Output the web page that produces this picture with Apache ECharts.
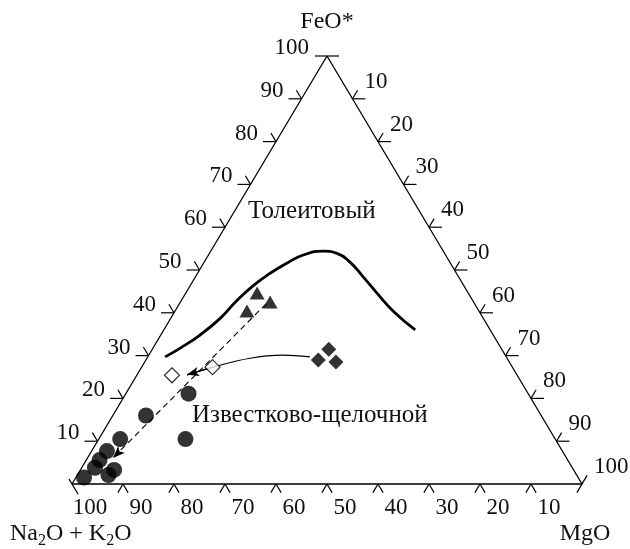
<!DOCTYPE html>
<html><head><meta charset="utf-8">
<script src="https://cdn.jsdelivr.net/npm/echarts@6/dist/echarts.min.js"></script>
<style>html,body{margin:0;padding:0;background:#fff}#c{width:630px;height:549px}</style>
</head><body><div id="c"></div>
<script>
// Ternary AFM diagram values (percent). Na2O+K2O = 100 - FeO* - MgO
const tickValues = [10, 20, 30, 40, 50, 60, 70, 80, 90];
const labelValues = [10, 20, 30, 40, 50, 60, 70, 80, 90, 100];

const boundaryFeO = [29.7, 31.7, 34.8, 38.7, 42.8, 46.4, 49.2, 51.6, 53.5, 54.4, 53.9, 51.9, 48.4, 44.6, 40.3, 36.0];
const boundaryMgO = [3.4, 5.3, 7.7, 9.7, 10.9, 12.4, 14.2, 16.3, 18.6, 22.0, 25.0, 28.5, 32.9, 37.5, 42.9, 49.3];

const circleFeO = [21.1, 16.0, 10.5, 10.5, 7.7, 5.6, 3.8, 1.5, 2.1, 3.3];
const circleMgO = [12.3, 6.5, 4.2, 17.0, 3.0, 2.6, 2.6, 1.6, 6.1, 6.6];

const triangleFeO = [44.6, 42.5, 40.4];
const triangleMgO = [14.0, 17.6, 14.1];

const diamondFeO = [31.5, 29.0, 28.5];
const diamondMgO = [34.6, 33.8, 37.5];

const openDiamondFeO = [25.4, 27.3];
const openDiamondMgO = [6.9, 13.9];

const trendFeO = [42.1, 6.1];
const trendMgO = [17.0, 5.0];

const curveFeO = [29.7, 30.1, 29.4, 27.3, 25.5];
const curveMgO = [31.8, 26.3, 20.2, 14.0, 9.8];

const FONT = 'Liberation Serif';

// ternary -> cartesian (x: 0..100 base, y: FeO height 0..100)
function tern(F, M) { return [M + F / 2, F]; }
function pairs(Fs, Ms) { return Fs.map((f, i) => tern(f, Ms[i])); }

// tick specs: [x, y, kind]  kind: 0 bottom, 1 left, 2 right, 3 apex, 4 left vertex, 5 right vertex
const tickData = [];
tickValues.forEach(v => {
  tickData.push([...tern(0, 100 - v), 0]);
  tickData.push([...tern(v, 0), 1]);
  tickData.push([...tern(100 - v, v), 2]);
});
tickData.push([...tern(100, 0), 3]);
tickData.push([...tern(0, 0), 4]);
tickData.push([...tern(0, 100), 5]);

const labelData = [];
labelValues.forEach(v => {
  labelData.push([...tern(0, 100 - v), 0, v]);
  labelData.push([...tern(v, 0), 1, v]);
  labelData.push([...tern(100 - v, v), 2, v]);
});

function dirs(api) {
  const L = api.coord([0, 0]), R = api.coord([100, 0]), T = api.coord([50, 100]);
  const n = v => { const l = Math.hypot(v[0], v[1]); return [v[0] / l, v[1] / l]; };
  return { dl: n([T[0] - L[0], T[1] - L[1]]), dr: n([R[0] - T[0], R[1] - T[1]]) };
}

// text with subscripts, laid out piece by piece
const measureCtx = document.createElement('canvas').getContext('2d');
function subText(parts, left, y, size, subSize) {
  let x = left;
  const children = [];
  parts.forEach(([t, isSub]) => {
    const fs = isSub ? subSize : size;
    measureCtx.font = fs + 'px "' + FONT + '"';
    const w = measureCtx.measureText(t).width;
    children.push({ type: 'text', x, y: y + (isSub ? 7 : 0),
      style: { text: t, fontSize: fs, fontFamily: FONT, fill: '#111', align: 'left', verticalAlign: 'middle' } });
    x += w;
  });
  return { type: 'group', children };
}

const chart = echarts.init(document.getElementById('c'));
chart.setOption({
  animation: false,
  backgroundColor: '#fff',
  grid: { left: 72, top: 56, width: 510, height: 428 },
  xAxis: { type: 'value', min: 0, max: 100, show: false },
  yAxis: { type: 'value', min: 0, max: 100, show: false },
  graphic: [
    { type: 'text', x: 327, y: 22, style: { text: 'FeO*', fontSize: 24, fontFamily: FONT, fill: '#111', align: 'center', verticalAlign: 'middle' } },
    { type: 'text', x: 585, y: 534, style: { text: 'MgO', fontSize: 24, fontFamily: FONT, fill: '#111', align: 'center', verticalAlign: 'middle' } },
    subText([['Na', false], ['2', true], ['O + K', false], ['2', true], ['O', false]], 10, 534, 24, 16),
    { type: 'text', x: 248, y: 211, style: { text: 'Толеитовый', fontSize: 25, fontFamily: FONT, fill: '#111', align: 'left', verticalAlign: 'middle' } },
    { type: 'text', x: 192, y: 415, style: { text: 'Известково-щелочной', fontSize: 25, fontFamily: FONT, fill: '#111', align: 'left', verticalAlign: 'middle' } }
  ],
  series: [
    { type: 'line', data: [tern(0, 0), tern(0, 100), tern(100, 0), tern(0, 0)], symbol: 'none', clip: false,
      lineStyle: { color: '#000', width: 1.3 }, z: 2 },
    { type: 'custom', data: tickData, clip: false, z: 2,
      renderItem: (params, api) => {
        const { dl, dr } = dirs(api);
        const p = api.coord([api.value(0), api.value(1)]);
        const k = api.value(2);
        const H = 13, D = 10;
        let segs = [];
        if (k === 0) segs = [[[0, 0], [-dl[0] * D, -dl[1] * D]], [[0, 0], [dr[0] * D, dr[1] * D]]];
        else if (k === 1) segs = [[[0, 0], [-H, 0]], [[0, 0], [-dr[0] * D, -dr[1] * D]]];
        else if (k === 2) segs = [[[0, 0], [H, 0]], [[0, 0], [dl[0] * D, dl[1] * D]]];
        else if (k === 3) segs = [[[-12, 0], [12, 0]]];
        else if (k === 4) segs = [[[-dr[0] * 6, -dr[1] * 6], [dr[0] * 12, dr[1] * 12]]];
        else if (k === 5) segs = [[[-dl[0] * 10, -dl[1] * 10], [dl[0] * 10, dl[1] * 10]]];
        return { type: 'group', children: segs.map(s => ({ type: 'line',
          shape: { x1: p[0] + s[0][0], y1: p[1] + s[0][1], x2: p[0] + s[1][0], y2: p[1] + s[1][1] },
          style: { stroke: '#000', lineWidth: 1.2 } })) };
      } },
    { type: 'custom', data: labelData, clip: false, z: 3,
      renderItem: (params, api) => {
        const p = api.coord([api.value(0), api.value(1)]);
        const k = api.value(2);
        let x, y, align;
        if (k === 0) { x = p[0] + 18; y = p[1] + 24; align = 'center'; }
        else if (k === 1) { x = p[0] - 18; y = p[1] - 8; align = 'right'; }
        else { x = p[0] + 12; y = p[1] - 17; align = 'left'; }
        return { type: 'text', x, y, style: { text: String(api.value(3)), fontSize: 23, fontFamily: FONT, fill: '#111', align, verticalAlign: 'middle' } };
      } },
    { type: 'line', data: pairs(boundaryFeO, boundaryMgO), smooth: 0.5, symbol: 'none', clip: false,
      lineStyle: { color: '#000', width: 2.8 }, z: 3 },
    { type: 'line', data: pairs(curveFeO, curveMgO), smooth: 0.4, symbol: 'none', clip: false,
      lineStyle: { color: '#000', width: 1.1 }, z: 3,
      markLine: { silent: true, symbol: ['none', 'arrow'], symbolSize: [7, 12], label: { show: false },
        lineStyle: { color: '#000', width: 1.1, type: 'solid' }, animation: false,
        data: [[{ coord: tern(curveFeO[3], curveMgO[3]) }, { coord: tern(curveFeO[4], curveMgO[4]) }]] } },
    { type: 'line', data: [], symbol: 'none', z: 3,
      markLine: { silent: true, symbol: ['none', 'arrow'], symbolSize: [7, 12], label: { show: false },
        lineStyle: { color: '#000', width: 1.1, type: [6, 4] }, animation: false,
        data: [[{ coord: tern(trendFeO[0], trendMgO[0]) }, { coord: tern(trendFeO[1], trendMgO[1]) }]] } },
    { type: 'scatter', data: pairs(circleFeO, circleMgO), symbol: 'circle', symbolSize: 16, clip: false,
      itemStyle: { color: '#000' }, z: 4 },
    { type: 'scatter', data: pairs(triangleFeO, triangleMgO), symbol: 'triangle', symbolSize: [15, 13], clip: false,
      itemStyle: { color: '#000' }, z: 4 },
    { type: 'scatter', data: pairs(diamondFeO, diamondMgO), symbol: 'diamond', symbolSize: 15, clip: false,
      itemStyle: { color: '#000' }, z: 4 },
    { type: 'scatter', data: pairs(openDiamondFeO, openDiamondMgO), symbol: 'diamond', symbolSize: 15, clip: false,
      itemStyle: { color: '#fff', borderColor: '#000', borderWidth: 1.2 }, z: 5 }
  ]
});
</script></body></html>
